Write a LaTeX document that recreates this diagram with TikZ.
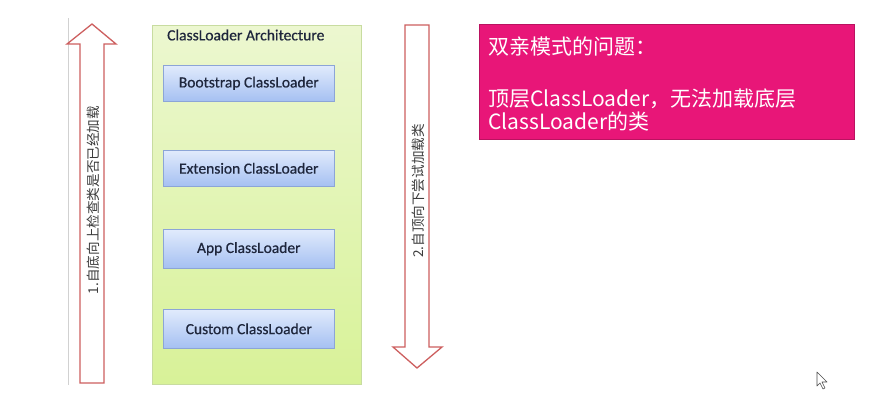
\documentclass[tikz,border=0pt]{standalone}
\usepackage{fontspec}
\setmainfont{Carlito}
\newfontfamily\boxfont[FakeBold=0.6]{Carlito}
\newfontfamily\cjk{Noto Sans CJK SC}
\usetikzlibrary{shadows}
\definecolor{arrred}{RGB}{205,95,95}
\definecolor{pinkbg}{RGB}{232,22,120}
\definecolor{greentop}{RGB}{236,247,208}
\definecolor{greenbot}{RGB}{216,242,152}
\definecolor{greenbd}{RGB}{200,220,160}
\definecolor{boxtop}{RGB}{225,235,252}
\definecolor{boxbot}{RGB}{165,192,242}
\definecolor{boxbd}{RGB}{140,165,215}
\definecolor{boxtxt}{RGB}{30,38,60}
\definecolor{txtgray}{RGB}{60,60,60}
\tikzset{
  bigarrow/.style={draw=arrred, line width=1.3pt, fill=white, line join=miter},
  loaderbox/.style={draw=boxbd, line width=0.6pt, top color=boxtop, bottom color=boxbot,
     minimum width=171pt, anchor=north west, inner sep=0pt, font=\boxfont\fontsize{15.5}{17}\selectfont, text=boxtxt,
     drop shadow={shadow xshift=1pt, shadow yshift=-1pt, opacity=0.25}},
  arrowtext/.style={rotate=90, font=\cjk\fontsize{13.6}{15}\selectfont, text=txtgray},
  pinktext/.style={font=\cjk\fontsize{21}{23}\selectfont, text=white, align=left, anchor=west, inner sep=0pt}
}
\begin{document}
\begin{tikzpicture}[x=1pt,y=-1pt]
\useasboundingbox (0,0) rectangle (883,410);
\fill[white] (0,0) rectangle (883,410);
% left gray line
\draw[black!18, line width=1pt] (68,18) -- (68,385);
% up arrow
\draw[bigarrow] (80,383) -- (80,44) -- (67,44) -- (92,24) -- (116,44) -- (104,44) -- (104,383) -- cycle;
\node[arrowtext] (uptext) at (93,200) {1.自底向上检查类是否已经加载};
% green container
\node[draw=greenbd, line width=0.8pt, top color=greentop, bottom color=greenbot,
      minimum width=209pt, minimum height=359pt, anchor=north west, inner sep=0pt] (arch) at (152,25) {};
\node[anchor=west, font=\boxfont\fontsize{15.6}{17}\selectfont, text=boxtxt, inner sep=0pt] (title) at (167,35) {ClassLoader Architecture};
\node[loaderbox, minimum height=36pt] (boot) at (163,65) {Bootstrap ClassLoader};
\node[loaderbox, minimum height=36pt] (ext) at (163,150) {Extension ClassLoader};
\node[loaderbox, minimum height=39pt] (app) at (163,229) {App ClassLoader};
\node[loaderbox, minimum height=39pt] (cust) at (163,309) {Custom ClassLoader};
% down arrow
\draw[bigarrow] (405,25) -- (405,347) -- (393,347) -- (417,368) -- (442,347) -- (429,347) -- (429,25) -- cycle;
\node[arrowtext] (downtext) at (418,191) {2.自顶向下尝试加载类};
% pink box
\node[fill=pinkbg, draw=pinkbg!80!black, line width=0.5pt, minimum width=375pt, minimum height=115pt,
      anchor=north west, inner sep=0pt] (pink) at (479,24) {};
\node[pinktext] (p1) at (488,46) {双亲模式的问题：};
\node[pinktext] (p2) at (488,110) {顶层ClassLoader，无法加载底层\\ClassLoader的类};
% cursor
\draw[black!70, fill=white, line width=0.6pt, line join=round] (817,372) -- (817,386) -- (820,383) -- (823,389) -- (825,388) -- (822,382) -- (827,382) -- cycle;
\end{tikzpicture}
\end{document}
